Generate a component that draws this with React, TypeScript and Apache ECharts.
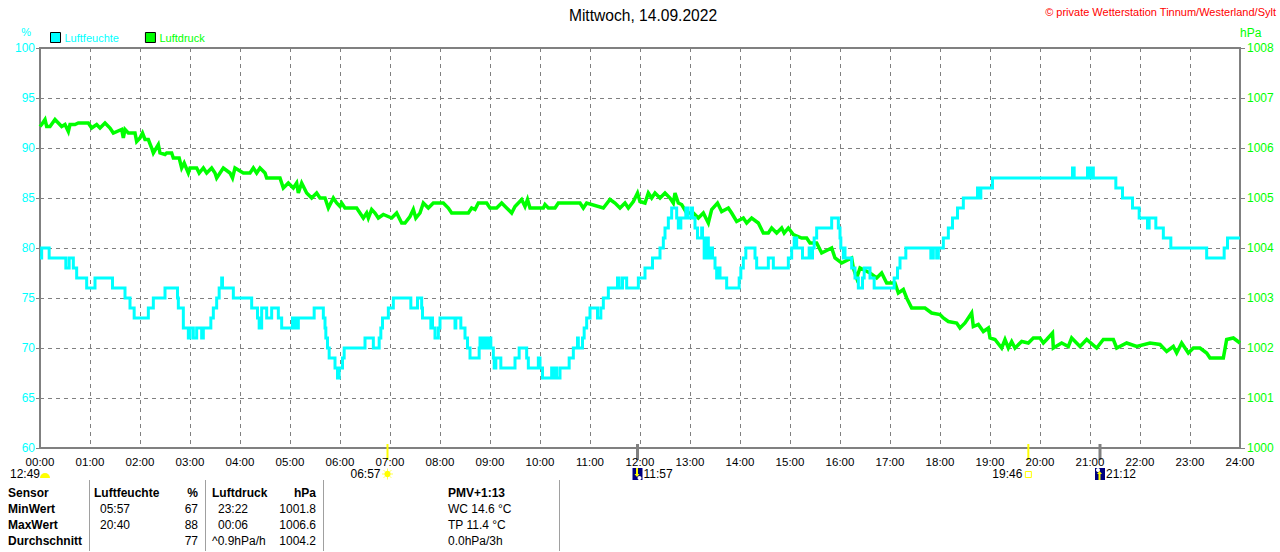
import React, { useEffect, useRef } from "react";
import * as echarts from "echarts";

const hourLabels = Array.from({ length: 25 }, (_, h) => String(h).padStart(2, "0") + ":00");

const humidityMinutes = [0,2,11,31,35,40,44,56,66,87,102,108,113,130,136,150,165,166,172,178,180,184,188,194,196,205,208,212,215,218,219,232,254,261,263,266,272,278,286,290,303,304,306,308,310,329,340,342,343,345,347,354,357,359,
363,365,390,400,407,409,411,418,424,445,453,458,459,469,470,471,474,478,480,498,499,505,510,513,516,527,528,530,532,534,536,538,540,541,544,545,547,553,570,575,584,586,598,600,603,614,616,618,620,624,635,640,645,646,651,653,656,660,669,673,676,682,693,695,699,704,718,
726,735,744,748,750,754,758,764,766,769,775,777,781,783,786,789,794,795,797,800,802,804,807,810,812,814,816,824,839,841,844,847,858,860,874,880,898,902,905,908,915,923,925,927,929,932,950,958,960,961,964,965,966,974,978,982,985,987,989,996,1001,1025,1026,1029,1032,1039,1069,1072,1076,1078,
1084,1090,1095,1101,1108,1125,1127,1129,1143,1239,1241,1257,1259,1262,1264,1291,1299,1311,1319,1329,1331,1339,1348,1357,1400,1421,1425,1440];
const humidityValues = [79,80,79,78,79,78,77,76,77,76,75,74,73,74,75,76,75,74,72,71,72,71,72,71,72,73,74,75,76,77,76,75,74,73,72,74,73,74,73,72,73,72,73,72,73,74,73,72,71,70,69,68,67,68,
69,70,71,70,71,72,73,74,75,74,75,74,73,72,73,72,71,72,73,72,73,72,71,70,69,70,71,70,71,70,71,70,71,70,69,68,69,68,69,70,69,68,69,68,67,68,67,68,67,68,69,70,71,70,71,72,73,74,73,74,75,76,77,76,77,76,77,
78,79,80,81,82,83,84,83,82,83,84,83,84,83,82,81,82,81,79,81,79,80,79,78,77,78,77,76,77,78,79,80,79,78,79,78,79,80,81,80,79,80,79,80,81,82,83,82,81,80,79,80,79,78,77,76,76,77,78,77,76,77,77,78,79,80,79,80,79,80,
81,82,83,84,85,86,85,86,87,88,87,88,87,88,87,86,85,84,83,82,83,82,81,80,79,80,81,81];

const pressureMinutes = [0,2,6,8,12,18,22,26,30,34,36,42,46,58,62,68,72,78,84,88,98,100,102,106,114,116,120,123,126,130,134,136,142,144,150,152,158,160,167,170,173,178,180,188,191,196,200,206,210,212,216,220,228,231,234,244,252,256,260,264,270,272,288,292,298,304,308,310,314,320,326,332,336,342,346,352,356,360,
362,366,380,384,388,392,394,398,402,406,412,422,428,434,438,444,448,451,456,460,466,472,484,490,494,514,518,522,526,536,540,548,554,560,566,570,578,582,585,588,604,606,610,618,622,648,652,656,676,684,690,696,702,706,712,717,720,
726,730,734,738,744,750,756,760,762,766,770,776,784,790,796,802,806,813,818,826,830,836,844,848,854,862,868,874,878,884,890,893,898,904,914,920,924,932,938,950,954,962,974,976,980,984,996,1004,1010,1016,1026,1030,1036,1040,1046,1062,1070,
1080,1084,1090,1100,1104,1110,1118,1120,1126,1132,1138,1140,1146,1154,1158,1162,1166,1170,1178,1186,1192,1200,1204,1208,1215,1216,1226,1234,1238,1248,1256,1268,1276,1288,1292,1304,1316,1332,1344,1352,1360,1364,1370,1378,1384,1392,1400,1404,1420,1424,1432,1440];
const pressureValues = [1006.43,1006.47,1006.57,1006.43,1006.43,1006.57,1006.5,1006.43,1006.47,1006.33,1006.47,1006.47,1006.5,1006.5,1006.4,1006.47,1006.4,1006.5,1006.4,1006.3,1006.37,1006.2,1006.37,1006.3,1006.3,1006.13,1006.2,1006.3,1006.17,1006.17,1006.0,1005.9,1006.07,1005.9,1005.87,1005.9,1005.9,1005.8,1005.8,1005.6,1005.7,1005.5,1005.6,1005.6,1005.5,1005.6,1005.5,1005.6,1005.5,1005.4,1005.5,1005.6,1005.5,1005.4,1005.6,1005.5,1005.5,1005.6,1005.5,1005.6,1005.5,1005.4,1005.4,1005.2,1005.3,1005.2,1005.3,1005.1,1005.3,1005.1,1005.0,1005.1,1005.0,1005.0,1004.8,1005.0,1004.9,1004.83,
1004.9,1004.8,1004.8,1004.7,1004.6,1004.7,1004.6,1004.77,1004.7,1004.6,1004.67,1004.6,1004.7,1004.5,1004.5,1004.63,1004.77,1004.6,1004.7,1004.9,1004.8,1004.9,1004.9,1004.8,1004.7,1004.7,1004.8,1004.77,1004.9,1004.9,1004.8,1004.8,1004.9,1004.8,1004.7,1004.83,1004.97,1004.83,1004.97,1004.8,1004.8,1004.87,1004.8,1004.8,1004.9,1004.9,1004.8,1004.9,1004.8,1004.97,1004.9,1004.8,1004.9,1004.8,1004.93,1005.1,1004.93,
1004.9,1005.1,1005.0,1005.1,1005.0,1005.1,1005.0,1004.9,1005.1,1004.9,1004.87,1004.7,1004.7,1004.6,1004.7,1004.5,1004.77,1004.9,1004.73,1004.8,1004.7,1004.53,1004.6,1004.5,1004.6,1004.5,1004.3,1004.3,1004.4,1004.3,1004.4,1004.3,1004.4,1004.27,1004.2,1004.2,1004.1,1004.1,1003.9,1004.0,1003.8,1003.7,1003.8,1003.6,1003.4,1003.6,1003.5,1003.4,1003.5,1003.3,1003.3,1003.1,1003.17,1003.0,1002.8,1002.8,1002.7,
1002.67,1002.6,1002.53,1002.5,1002.4,1002.5,1002.7,1002.43,1002.47,1002.33,1002.4,1002.2,1002.17,1002.0,1002.17,1002.0,1002.13,1002.0,1002.13,1002.1,1002.2,1002.2,1002.1,1002.17,1002.3,1002.0,1002.1,1002.03,1002.2,1002.03,1002.17,1002.0,1002.17,1002.17,1002.0,1002.1,1002.03,1002.1,1002.07,1001.93,1002.03,1001.9,1002.1,1001.9,1002.0,1002.0,1001.9,1001.8,1001.8,1002.17,1002.2,1002.1];

const tableRows = [
  ["Sensor", "Luftfeuchte", "%", "Luftdruck", "hPa", "PMV+1:13"],
  ["MinWert", "05:57", "67", "23:22", "1001.8", "WC 14.6 °C"],
  ["MaxWert", "20:40", "88", "00:06", "1006.6", "TP 11.4 °C"],
  ["Durchschnitt", "", "77", "^0.9hPa/h", "1004.2", "0.0hPa/3h"],
];

const FONT = '"Liberation Sans", Arial, sans-serif';
const CYAN = "#00ffff";
const LIME = "#00ff00";
const GRAY = "#808080";

const txt = (x: number, y: number, text: string, extra: any = {}) => ({
  type: "text",
  x,
  y,
  silent: true,
  style: { text, fill: "#000", font: `12px ${FONT}`, textVerticalAlign: "middle", ...extra },
});
const box = (x: number, y: number, w: number, h: number, fill: string, extra: any = {}) => ({
  type: "rect",
  silent: true,
  shape: { x, y, width: w, height: h },
  style: { fill, ...extra },
});

const sun = (cx: number, cy: number) => {
  const rays: any[] = [];
  for (let i = 0; i < 8; i++) {
    const a = (i * Math.PI) / 4;
    rays.push({
      type: "line",
      silent: true,
      shape: { x1: cx + 3 * Math.cos(a), y1: cy + 3 * Math.sin(a), x2: cx + 5.5 * Math.cos(a), y2: cy + 5.5 * Math.sin(a) },
      style: { stroke: "#ffff50", lineWidth: 1 },
    });
  }
  return [...rays, { type: "circle", silent: true, shape: { cx, cy, r: 3.2 }, style: { fill: "#ffff00" } }];
};

const moonIcon = (x: number, y: number, up: boolean) => [
  box(x, y, 10, 12, "#000080"),
  { type: "circle", silent: true, shape: { cx: up ? x + 3 : x + 7, cy: up ? y + 2 : y + 10, r: 2 }, style: { fill: "#fff" } },
  box(x + 3.5, up ? y + 5 : y, 2, 7, "#ffff00"),
  {
    type: "polygon",
    silent: true,
    shape: up
      ? { points: [[x + 2, y + 6], [x + 7, y + 6], [x + 4.5, y + 3]] }
      : { points: [[x + 2, y + 6], [x + 7, y + 6], [x + 4.5, y + 9]] },
    style: { fill: "#ffff00" },
  },
];

export default function App() {
  const ref = useRef<HTMLDivElement>(null);
  useEffect(() => {
    document.body.style.margin = "0";
    const chart = echarts.init(ref.current!, null, { renderer: "svg" });
    const zip = (a: number[], b: number[]) => a.map((m, i) => [m, b[i]]);
    chart.setOption({
      animation: false,
      backgroundColor: "#fff",
      textStyle: { fontFamily: FONT },
      title: {
        text: "Mittwoch, 14.09.2022",
        left: 638,
        top: 2,
        textAlign: "center",
        textStyle: { fontFamily: FONT, fontSize: 15.6, fontWeight: "normal", color: "#000" },
      },
      legend: {
        left: 50,
        top: 32,
        padding: 0,
        itemWidth: 10,
        itemHeight: 10,
        itemGap: 26,
        icon: "rect",
        data: [
          { name: "Luftfeuchte", textStyle: { color: CYAN }, itemStyle: { color: CYAN, borderColor: "#000", borderWidth: 1 } },
          { name: "Luftdruck", textStyle: { color: LIME }, itemStyle: { color: LIME, borderColor: "#000", borderWidth: 1 } },
        ],
        textStyle: { fontFamily: FONT, fontSize: 11, padding: [0, 0, 0, -1] },
        selectedMode: false,
      },
      grid: { left: 40, right: 40, top: 48, height: 400, show: true, borderColor: GRAY, borderWidth: 2, backgroundColor: "transparent" },
      xAxis: {
        type: "value",
        min: 0,
        max: 1440,
        interval: 60,
        axisLine: { show: false },
        axisTick: { show: false },
        axisLabel: {
          color: "#000",
          fontSize: 11.5,
          fontFamily: FONT,
          margin: 8,
          formatter: (v: number) => hourLabels[v / 60],
          hideOverlap: false,
          showMinLabel: true,
          showMaxLabel: true,
        },
        splitLine: { show: true, lineStyle: { color: GRAY, type: [4, 4], width: 1 } },
      },
      yAxis: [
        {
          type: "value",
          min: 60,
          max: 100,
          interval: 5,
          name: "%",
          nameLocation: "end",
          nameGap: 11,
          nameTextStyle: { color: CYAN, fontSize: 11, fontFamily: FONT, align: "right", padding: [0, 9, 0, 0] },
          axisLine: { show: false },
          axisTick: { show: true, length: 4, lineStyle: { color: GRAY } },
          axisLabel: { color: CYAN, fontSize: 12, fontFamily: FONT, margin: 5 },
          splitLine: { show: true, lineStyle: { color: GRAY, type: [4, 4], width: 1 } },
        },
        {
          type: "value",
          min: 1000,
          max: 1008,
          interval: 1,
          position: "right",
          name: "hPa",
          nameLocation: "end",
          nameGap: 9,
          nameTextStyle: { color: LIME, fontSize: 12, fontFamily: FONT, align: "left" },
          axisLine: { show: false },
          axisTick: { show: true, length: 5, lineStyle: { color: GRAY } },
          axisLabel: { color: LIME, fontSize: 12, fontFamily: FONT, margin: 7, formatter: (v: number) => String(v) },
          splitLine: { show: false },
        },
      ],
      series: [
        {
          name: "Luftdruck",
          type: "line",
          yAxisIndex: 1,
          symbol: "none",
          data: zip(pressureMinutes, pressureValues),
          itemStyle: { color: LIME },
          lineStyle: { color: LIME, width: 3.5, join: "miter" },
        },
        {
          name: "Luftfeuchte",
          type: "line",
          yAxisIndex: 0,
          symbol: "none",
          step: "end",
          data: zip(humidityMinutes, humidityValues),
          itemStyle: { color: CYAN },
          lineStyle: { color: CYAN, width: 3, join: "miter" },
        },
      ],
    });

    const px = (m: number) => chart.convertToPixel({ xAxisIndex: 0 }, m) as number;
    const sunrise = px(417);
    const moonset = px(717);
    const sunset = px(1186);
    const moonrise = px(1272);
    const rowY = [493, 509, 525, 541];
    const bold = { font: `bold 12px ${FONT}` };
    const table: any[] = [];
    tableRows.forEach((r, i) => {
      const hdr = i === 0 ? bold : {};
      const inset = i === 0 || i === 3 ? 0 : 6;
      table.push(txt(8, rowY[i], r[0], bold));
      table.push(txt(94 + inset, rowY[i], r[1], hdr));
      table.push(txt(198, rowY[i], r[2], { ...hdr, textAlign: "right" }));
      table.push(txt(212 + inset, rowY[i], r[3], hdr));
      table.push(txt(316, rowY[i], r[4], { ...hdr, textAlign: "right" }));
      table.push(txt(448, rowY[i], r[5], hdr));
    });
    [89, 205, 323, 559].forEach((x) =>
      table.push({ type: "line", silent: true, shape: { x1: x + 0.5, y1: 480, x2: x + 0.5, y2: 551 }, style: { stroke: "#a0a0a0", lineWidth: 1 } })
    );

    chart.setOption({
      graphic: {
        elements: [
          txt(1276, 12, "© private Wetterstation Tinnum/Westerland/Sylt", { fill: "#ff0000", font: `11px ${FONT}`, textAlign: "right" }),
          box(sunrise - 1, 444, 2, 16, "#ffff00"),
          box(moonset - 1.5, 444, 3, 16, GRAY),
          box(sunset - 1, 444, 2, 16, "#ffff00"),
          box(moonrise - 1.5, 444, 3, 16, GRAY),
          txt(10, 474, "12:49"),
          { type: "sector", silent: true, shape: { cx: 45, cy: 478, r: 5, startAngle: Math.PI, endAngle: 2 * Math.PI }, style: { fill: "#ffff00" } },
          txt(sunrise - 7, 474, "06:57", { textAlign: "right" }),
          ...sun(sunrise, 474),
          ...moonIcon(moonset - 5, 468, false),
          txt(moonset + 6, 474, "11:57"),
          txt(sunset - 6, 474, "19:46", { textAlign: "right" }),
          box(sunset - 3, 471.5, 6, 6, "transparent", { stroke: "#ffff00", lineWidth: 1 }),
          ...moonIcon(moonrise - 5, 468, true),
          txt(moonrise + 6, 474, "21:12"),
          ...table,
        ],
      },
    });
    return () => chart.dispose();
  }, []);
  return <div ref={ref} style={{ width: 1280, height: 552 }} />;
}
